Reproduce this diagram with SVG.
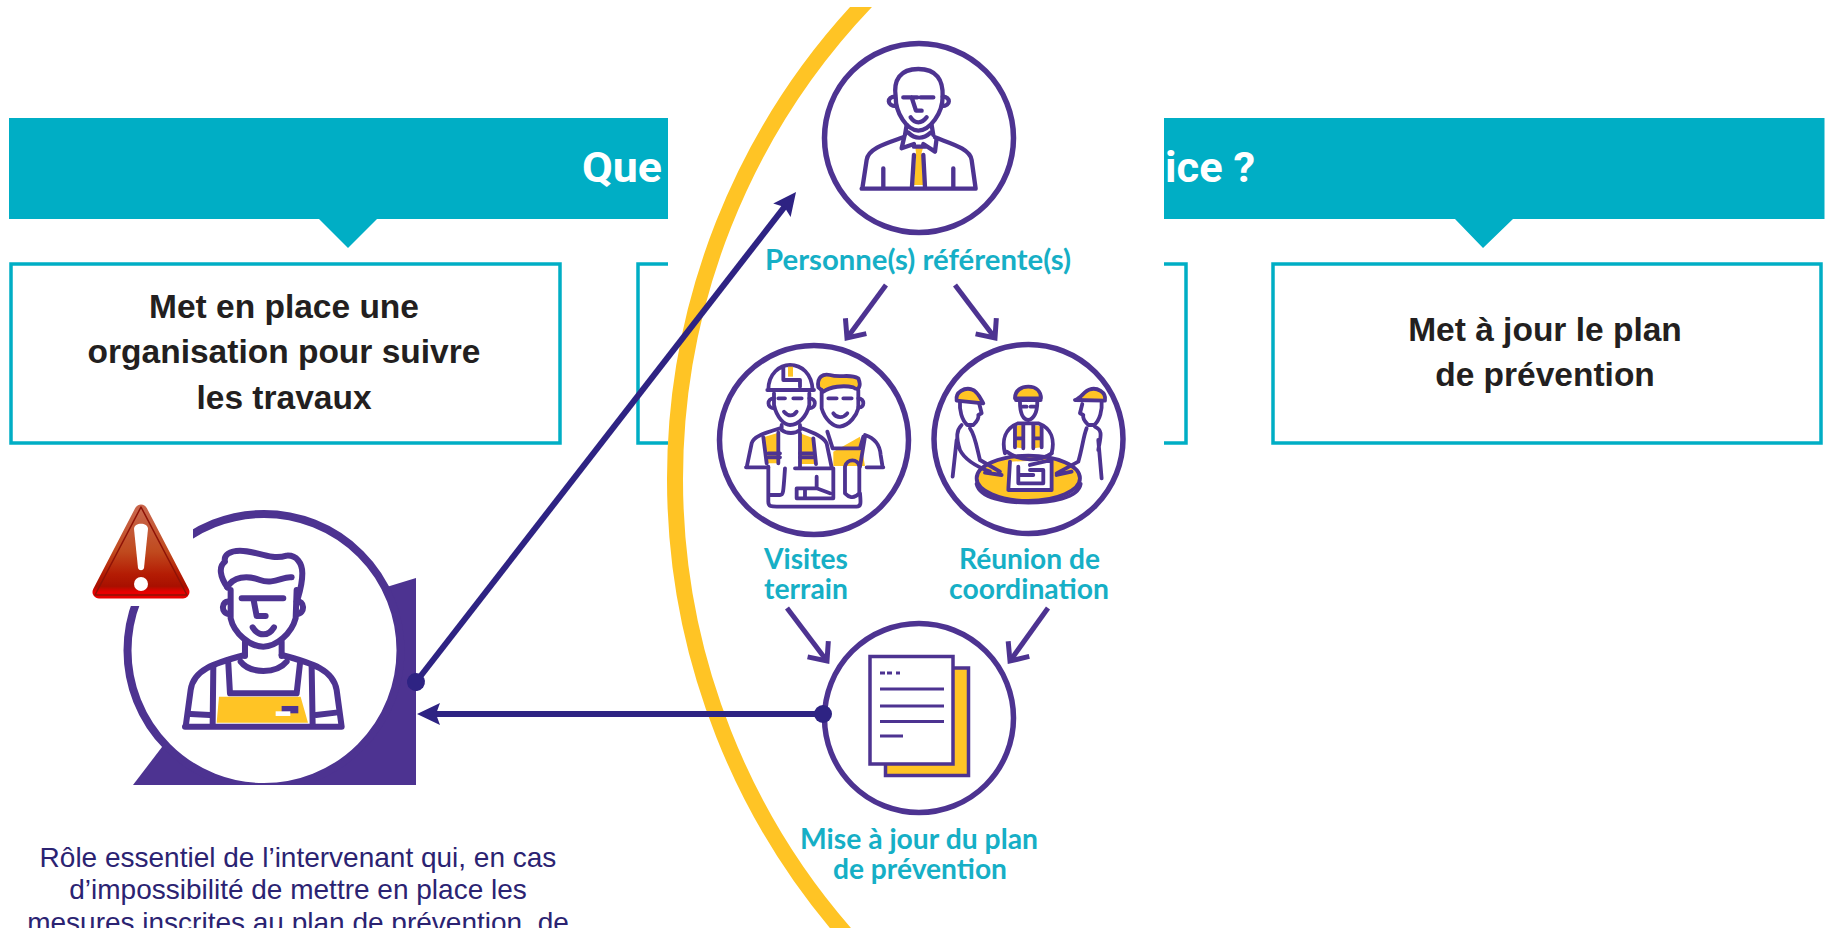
<svg xmlns="http://www.w3.org/2000/svg" width="1829" height="928" viewBox="0 0 1829 928">
<style>
.teal{fill:#00AEC5}
.box{fill:#fff;stroke:#00AEC5;stroke-width:3.5}
.bt{font-family:"Liberation Sans",Arial,sans-serif;font-weight:700;font-size:33.500px;fill:#231F20;text-anchor:middle}
.title{font-family:"Roboto","Noto Sans",sans-serif;font-weight:700;font-size:43px;fill:#fff}
.lab{font-family:"Lato","Noto Sans",sans-serif;font-weight:700;font-size:28px;fill:#16AFC6}
.note{font-family:"Liberation Sans",Arial,sans-serif;font-size:28px;fill:#2B2372;text-anchor:middle}
.ring{fill:#fff;stroke:#4D3391;stroke-width:5.500}
.i{fill:none;stroke:#4D3391;stroke-width:13;stroke-linecap:round;stroke-linejoin:round}
.j{fill:none;stroke:#4D3391;stroke-width:11.500;stroke-linecap:round;stroke-linejoin:round}
.w{fill:#fff}
.y{fill:#FFC425}
.p{fill:#4D3391}
.nav{fill:none;stroke:#2E2383;stroke-width:6}
.sm{fill:none;stroke:#4D3391;stroke-width:5}
</style>
<defs>
<marker id="solid" markerUnits="userSpaceOnUse" viewBox="-32 -12 36 24" markerWidth="36" markerHeight="24" refX="-10" refY="0" orient="auto"><path d="M-23,-11 L0,0 L-23,11 L-19,0 Z" fill="#2E2383"/></marker>
<marker id="dot" markerUnits="userSpaceOnUse" viewBox="-10 -10 20 20" markerWidth="20" markerHeight="20" refX="0" refY="0" orient="auto"><circle r="9" fill="#2E2383"/></marker>
<marker id="open" markerUnits="userSpaceOnUse" viewBox="-20 -18 24 36" markerWidth="24" markerHeight="36" refX="0" refY="0" orient="auto"><path d="M-15,-13 L0,0 L-15,13" fill="none" stroke="#4D3391" stroke-width="5"/></marker>
<linearGradient id="warn" x1="0" y1="0" x2="0" y2="1"><stop offset="0" stop-color="#C8654A"/><stop offset=".5" stop-color="#C04A1E"/><stop offset=".78" stop-color="#B41C04"/><stop offset=".93" stop-color="#A81000"/><stop offset="1" stop-color="#E80000"/></linearGradient>
<clipPath id="arcclip"><rect x="660" y="7" width="260" height="921"/></clipPath>
<clipPath id="bubble"><rect x="100" y="500" width="316" height="285"/></clipPath>
</defs>

<g id="banner"><rect class="teal" x="9" y="118" width="1815.500" height="101"/><path class="teal" d="M319,219 L377,219 L348,248 Z M1455,219 L1513,219 L1483,248 Z"/></g>
<g id="box1"><rect class="box" x="11" y="264" width="549" height="179"/><text class="bt"><tspan x="284" y="318">Met en place une</tspan><tspan x="284" y="363">organisation pour suivre</tspan><tspan x="284" y="409">les travaux</tspan></text></g>
<g id="box2"><rect class="box" x="638" y="264" width="548" height="179"/></g>
<g id="box4"><rect class="box" x="1273" y="264" width="548" height="179"/><text class="bt"><tspan x="1545" y="341">Met à jour le plan</tspan><tspan x="1545" y="386">de prévention</tspan></text></g>

<rect id="panel" x="668" y="0" width="496" height="928" fill="#fff"/>
<g id="title"><text class="title" x="582" y="182" textLength="80" lengthAdjust="spacingAndGlyphs">Que</text><text class="title" x="1165" y="182" textLength="90" lengthAdjust="spacingAndGlyphs">ice ?</text></g>
<circle id="arc" cx="1367" cy="479" r="692" fill="none" stroke="#FFC425" stroke-width="16" clip-path="url(#arcclip)"/>

<g id="intervenant">
<g clip-path="url(#bubble)"><path class="p" d="M416,578 L380,589 L162,747 L133,785 L416,785 Z"/><circle cx="264" cy="650.500" r="136.500" fill="#fff" stroke="#4D3391" stroke-width="8"/></g>
<g transform="translate(70,490) scale(.3333)">
<path class="y" d="M447,620 L692,620 L714,698 L440,698 Z"/>
<g class="i" style="stroke-width:18">
<path d="M472,292 C450,260 445,230 465,215 C460,195 480,182 510,182 C560,182 600,212 650,197 C680,195 697,220 697,250 C697,285 688,310 682,330"/>
<path d="M472,292 C490,260 530,255 570,270 C610,285 640,258 665,262"/>
<path d="M482,300 L482,385 C492,430 540,470 580,470 C620,470 665,430 677,385 L680,300"/>
<path d="M478,335 C455,330 450,370 478,372 M680,335 C703,330 708,370 680,372"/>
<path d="M515,325 L640,325 M550,325 L560,378 L587,378"/>
<path d="M548,412 C565,440 595,440 612,412"/>
<path d="M525,455 L525,498 M635,455 L635,498"/>
<path d="M512,515 C540,552 620,552 650,515"/>
<path d="M347,710 L362,600 C370,540 430,520 525,495 M635,495 C730,520 790,540 800,600 L815,710 M345,710 L815,710"/>
<path d="M362,672 L420,675 M738,675 L798,668"/>
<path d="M430,530 L428,705 M725,530 L728,705"/>
<path d="M475,520 L480,610 L680,610 L690,520"/>
</g>
<rect class="p" x="635" y="648" width="50" height="22"/><rect class="w" x="617" y="664" width="44" height="14"/>
</g>
<rect x="87" y="500" width="106" height="106" fill="#fff"/>
<g id="warning"><path d="M141,511 L99,592 L183,592 Z" fill="url(#warn)" stroke="url(#warn)" stroke-width="13" stroke-linejoin="round"/><path d="M141,507 L95,595 L187,595 Z" fill="none" stroke="#8E1206" stroke-width="1.500" stroke-linejoin="round"/><path d="M134,529 C134,522 148,522 148,529 L144,568 C143,571 139,571 138,568 Z" fill="#fff"/><circle cx="141" cy="584" r="7" fill="#fff"/></g>
</g>

<g id="referent">
<circle class="ring" cx="919" cy="138" r="94.500"/>
<g transform="translate(660,0) scale(.3333)">
<path class="y" d="M766,440 L790,440 L785,458 L790,555 L762,555 L768,458 Z"/>
<g class="i">
<path d="M707,290 C700,240 720,207 775,207 C830,207 850,240 848,290 C848,340 810,390 775,392 C740,390 707,340 707,290"/>
<path d="M705,290 C680,290 680,318 708,318 M848,290 C873,290 873,318 846,318"/>
<path d="M730,292 L772,292 M782,292 L820,292 M755,292 L768,332 L785,332"/>
<path d="M752,352 C765,372 785,372 800,352"/>
<path d="M740,375 L735,405 M815,375 L820,405 M745,398 C765,418 790,418 812,398"/>
<path d="M733,410 L725,445 L762,432 M790,432 L825,455 L830,415 M762,440 L795,440"/>
<path d="M607,566 L620,480 C625,445 680,430 730,412 M825,412 C870,430 930,445 935,480 L947,566 M605,566 L947,566"/>
<path d="M670,505 L670,562 M880,505 L880,562"/>
<path d="M762,465 L756,560 M790,465 L795,560"/>
</g>
</g>
<text class="lab" x="765" y="270" textLength="306" lengthAdjust="spacingAndGlyphs">Personne(s) référente(s)</text>
</g>

<g id="visites">
<circle class="ring" cx="814" cy="440" r="94.500"/>
<g transform="translate(690,330) scale(.3333)">
<path class="y" d="M220,322 L265,308 L265,400 L230,400 Z M330,310 L370,325 L378,402 L330,402 Z M430,365 L510,320 L525,408 L430,408 Z"/>
<path class="y" d="M385,172 C380,140 400,130 420,135 C450,145 480,130 505,145 C515,170 505,185 490,172 C460,165 420,170 400,185 Z"/>
<g class="j">
<path d="M385,172 C380,140 400,130 420,135 C450,145 480,130 505,145 C515,170 505,185 490,172 C460,165 420,170 400,185 Z"/>
<path d="M395,180 L395,235 C405,270 430,290 450,290 C480,285 500,255 505,235 L505,180"/>
<path d="M505,205 C525,205 525,235 505,232"/>
<path d="M415,205 L440,205 M460,205 L485,205 M430,250 C440,265 460,265 472,250"/>
<path d="M412,305 L428,355 L510,355 L520,320 M525,315 C555,325 570,345 572,375 L578,412 M530,412 L580,412 M510,410 L525,320"/>
<path d="M235,180 C235,130 270,105 300,105 C335,105 365,130 368,180 M232,180 L372,180 M280,110 L280,150 L330,150 L330,170"/>
<path d="M252,190 L252,225 C260,265 285,285 300,285 C325,285 350,260 358,225 L358,190"/>
<path d="M252,205 C230,205 230,235 252,235 M358,205 C380,205 380,235 358,235"/>
<path d="M265,205 L285,205 M310,205 L335,205 M282,245 C295,260 310,260 320,245"/>
<path d="M275,285 L275,300 M330,285 L330,300 M275,300 C290,312 315,312 330,300"/>
<path d="M170,412 L185,340 C190,320 220,310 270,295 M335,295 C375,310 400,320 410,340 L425,412 M168,412 L235,412"/>
<path d="M220,322 L230,400 M265,308 L265,400 M330,310 L330,410 M370,325 L378,402"/>
<path d="M235,370 L270,370 M330,370 L370,370 M235,382 L270,382 M330,382 L370,382"/>
<path d="M235,410 L235,515 C235,530 245,530 260,530 L500,530 C515,530 512,515 510,490 M235,495 L270,495 C280,495 280,490 285,415"/>
<path d="M315,415 L430,415 L430,505 L320,505 L320,475 L380,475 L380,440 M380,475 L420,490 M345,480 L345,505"/>
<path d="M465,410 C470,385 505,385 508,410 L508,490 C490,510 475,500 465,490 Z"/>
</g>
<rect class="y" x="294" y="110" width="15" height="30"/>
</g>
<text class="lab"><tspan x="764" y="569" textLength="84" lengthAdjust="spacingAndGlyphs">Visites</tspan><tspan x="764" y="599" textLength="84" lengthAdjust="spacingAndGlyphs">terrain</tspan></text>
</g>

<g id="reunion">
<circle class="ring" cx="1028.500" cy="439" r="94.500"/>
<g transform="translate(690,330) scale(.3333)">
<ellipse class="y" cx="1015" cy="445" rx="155" ry="68"/>
<ellipse class="j" cx="1015" cy="445" rx="155" ry="68"/>
<path class="j" d="M860,462 C870,505 950,518 1015,518 C1080,518 1165,505 1172,462"/>
<path class="y" d="M975,288 L1000,285 L1000,355 L975,352 Z M1025,285 L1055,288 L1055,352 L1030,355 Z"/>
<path class="y" d="M800,212 C795,185 825,172 845,178 C862,182 872,205 880,220 Z M1245,212 C1250,185 1220,172 1200,178 C1183,182 1173,205 1155,210 Z M975,205 C975,180 995,170 1015,170 C1040,170 1053,185 1053,205 Z"/>
<path class="w" d="M960,395 L1085,390 L1085,480 L950,480 Z"/>
<g class="j">
<path d="M800,212 C795,185 825,172 845,178 C862,182 872,205 880,220 Z"/>
<path d="M810,215 C808,240 815,270 832,285 L850,285 C860,275 868,265 865,255 L875,250 L868,222"/>
<path d="M815,285 C800,300 797,320 810,360 C825,390 860,410 900,425 M800,330 L788,440 M840,295 C855,315 860,350 870,390 L930,425 M885,428 L935,435"/>
<path d="M1245,212 C1250,185 1220,172 1200,178 C1183,182 1173,205 1155,210 Z"/>
<path d="M1235,215 C1237,240 1230,270 1213,285 L1195,285 C1185,275 1177,265 1180,255 L1170,250 L1177,222"/>
<path d="M1215,290 C1240,300 1232,320 1225,360 M1225,330 L1235,445 M1190,295 C1180,320 1178,350 1165,395 L1100,430 M1100,435 L1145,425"/>
<path d="M975,205 C975,180 995,170 1015,170 C1040,170 1053,185 1053,205 Z M978,210 L1052,210"/>
<path d="M990,215 C990,250 1000,268 1015,270 C1030,268 1042,250 1042,215 M998,230 L1010,230 M1022,230 L1034,230"/>
<path d="M945,370 C935,330 945,295 985,280 L1045,280 C1085,295 1095,330 1085,370"/>
<path d="M975,288 L975,352 M1000,285 L1000,355 M1030,285 L1030,355 M1055,288 L1055,352 M975,325 L1000,325 M1030,325 L1055,325 M950,365 C990,395 1050,395 1085,370"/>
<path d="M960,395 L955,480 L1085,480 L1085,390 L1020,405 M985,410 L985,460 L1060,460 L1060,420 L1020,420 M985,435 L1030,435"/>
</g>
</g>
<text class="lab"><tspan x="959" y="569" textLength="141" lengthAdjust="spacingAndGlyphs">Réunion de</tspan><tspan x="949" y="599" textLength="160" lengthAdjust="spacingAndGlyphs">coordination</tspan></text>
</g>

<g id="miseajour">
<circle class="ring" cx="919" cy="718" r="94.500"/>
<rect x="885.500" y="668" width="83" height="107.500" fill="#FFC425" stroke="#4D3391" stroke-width="3.500"/>
<rect x="870" y="656.500" width="83" height="107.500" fill="#fff" stroke="#4D3391" stroke-width="3.500"/>
<path d="M880,673 L885,673 M887,673 L892,673 M896,673 L900,673 M880,689 L944,689 M880,706 L944,706 M880,721.500 L944,721.500 M880,736 L903,736" fill="none" stroke="#4D3391" stroke-width="3"/>
<text class="lab"><tspan x="800" y="849" textLength="238" lengthAdjust="spacingAndGlyphs">Mise à jour du plan</tspan><tspan x="833" y="879" textLength="174" lengthAdjust="spacingAndGlyphs">de prévention</tspan></text>
</g>

<g id="note"><text class="note"><tspan x="298" y="867">Rôle essentiel de l’intervenant qui, en cas</tspan><tspan x="298" y="899">d’impossibilité de mettre en place les</tspan><tspan x="298" y="932">mesures inscrites au plan de prévention, de</tspan></text></g>

<g id="connectors">
<path class="sm" d="M886,285 L847,338" marker-end="url(#open)"/>
<path class="sm" d="M955,285 L995,338" marker-end="url(#open)"/>
<path class="sm" d="M787,608 L827,661" marker-end="url(#open)"/>
<path class="sm" d="M1048,608 L1010,661" marker-end="url(#open)"/>
<path class="nav" d="M416,682 L789.900,199.900" marker-start="url(#dot)" marker-end="url(#solid)"/>
<path class="nav" d="M823,714 L427,714" marker-start="url(#dot)" marker-end="url(#solid)"/>
</g>
</svg>
